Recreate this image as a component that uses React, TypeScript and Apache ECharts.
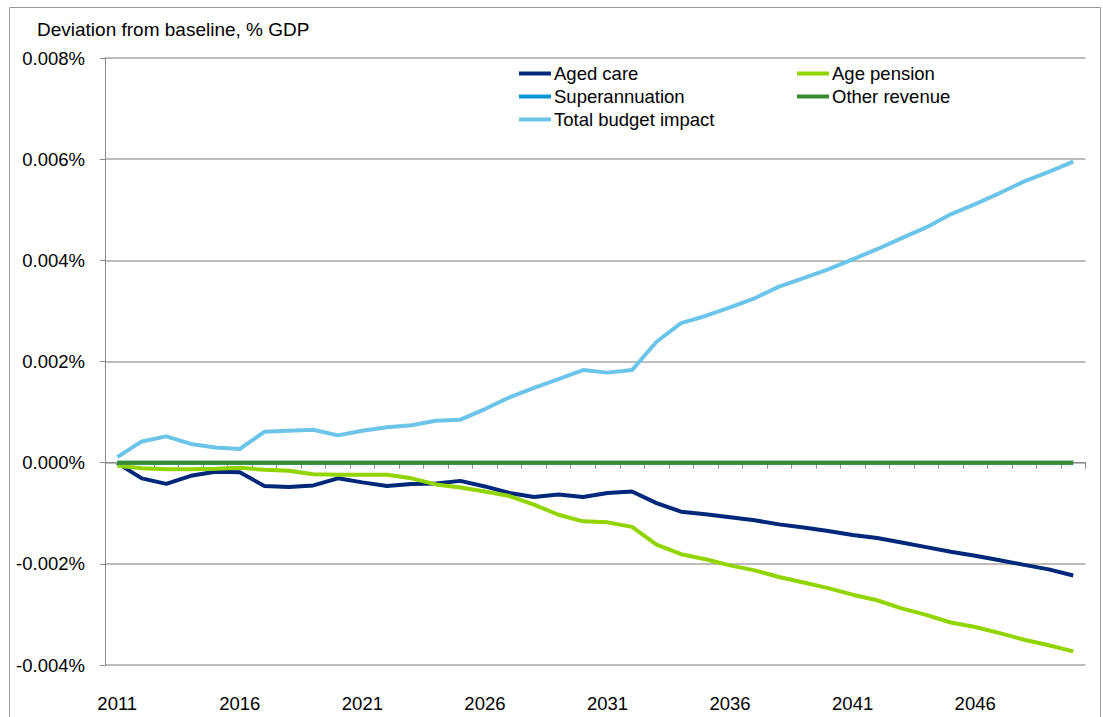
import React, { useEffect, useRef } from "react";
import * as echarts from "echarts";

const years: string[] = [];
for (let y = 2011; y <= 2050; y++) years.push(String(y));

const agedCare = [
  -0.00001, -0.00031, -0.00042, -0.00026, -0.00018, -0.00019, -0.00046, -0.00048, -0.00045, -0.00031,
  -0.00039, -0.00046, -0.00042, -0.00041, -0.00036, -0.00047, -0.0006, -0.00068, -0.00063, -0.00068,
  -0.0006, -0.00057, -0.0008, -0.00097, -0.00102, -0.00108, -0.00114, -0.00122, -0.00128, -0.00135,
  -0.00143, -0.00149, -0.00158, -0.00167, -0.00176, -0.00184, -0.00193, -0.00202, -0.00211, -0.00223,
];

const agePension = [
  -0.00006, -0.00011, -0.00013, -0.00013, -0.00012, -0.0001, -0.00014, -0.00016, -0.00023, -0.00024,
  -0.00024, -0.00024, -0.00031, -0.00043, -0.00049, -0.00057, -0.00066, -0.00083, -0.00103, -0.00116,
  -0.00118, -0.00127, -0.00162, -0.00181, -0.00191, -0.00203, -0.00213, -0.00226, -0.00237, -0.00248,
  -0.00261, -0.00272, -0.00288, -0.00301, -0.00316, -0.00325, -0.00337, -0.0035, -0.00361, -0.00373,
];

const superannuation = [
  0, 0, 0, 0, 0, 0, 0, 0, 0, 0, 0, 0, 0, 0, 0, 0, 0, 0, 0, 0,
  0, 0, 0, 0, 0, 0, 0, 0, 0, 0, 0, 0, 0, 0, 0, 0, 0, 0, 0, 0,
];

const otherRevenue = [
  0, 0, 0, 0, 0, 0, 0, 0, 0, 0, 0, 0, 0, 0, 0, 0, 0, 0, 0, 0,
  0, 0, 0, 0, 0, 0, 0, 0, 0, 0, 0, 0, 0, 0, 0, 0, 0, 0, 0, 0,
];

const totalBudget = [
  0.00011, 0.00042, 0.00052, 0.00037, 0.0003, 0.00027, 0.00061, 0.00063, 0.00065, 0.00054,
  0.00063, 0.0007, 0.00074, 0.00083, 0.00085, 0.00106, 0.00129, 0.00148, 0.00165, 0.00183,
  0.00178, 0.00183, 0.00239, 0.00276, 0.0029, 0.00307, 0.00325, 0.00348, 0.00365, 0.00382,
  0.00402, 0.00422, 0.00444, 0.00465, 0.00491, 0.00511, 0.00533, 0.00556, 0.00575, 0.00595,
];

const FONT = "'Liberation Sans', Arial, sans-serif";
const FS = 18.5;

export default function App() {
  const ref = useRef<HTMLDivElement>(null);
  useEffect(() => {
    if (!ref.current) return;
    const chart = echarts.init(ref.current, undefined, { renderer: "svg" });
    const lineSeries = (name: string, data: number[], color: string) => ({
      name,
      type: "line",
      data,
      showSymbol: false,
      symbol: "none",
      lineStyle: { color, width: 4 },
      itemStyle: { color },
      xAxisIndex: 0,
      yAxisIndex: 0,
    });
    const legendCommon = {
      orient: "vertical",
      top: 64,
      padding: 0,
      itemGap: 4,
      itemWidth: 32,
      itemHeight: 4,
      icon: "rect",
      textStyle: { fontFamily: FONT, fontSize: FS, color: "#000", lineHeight: 19, padding: [0, 0, 0, -2] },
    };
    chart.setOption({
      animation: false,
      textStyle: { fontFamily: FONT },
      title: {
        text: "Deviation from baseline, % GDP",
        left: 37,
        top: 20,
        padding: 0,
        textStyle: { fontFamily: FONT, fontSize: 19, fontWeight: "normal", color: "#000" },
      },
      graphic: [
        {
          type: "rect",
          shape: { x: 9.5, y: 7.5, width: 1091, height: 720 },
          style: { fill: "none", stroke: "#999", lineWidth: 1 },
          silent: true,
        },
      ],
      legend: [
        { ...legendCommon, left: 519, data: ["Aged care", "Superannuation", "Total budget impact"] },
        { ...legendCommon, left: 797, data: ["Age pension", "Other revenue"] },
      ],
      grid: { left: 105, right: 17.5, top: 58, bottom: 52, containLabel: false },
      xAxis: [
        {
          type: "category",
          data: years,
          boundaryGap: true,
          position: "bottom",
          axisLine: { show: false, onZero: false },
          axisTick: { show: false },
          axisLabel: { interval: 4, margin: 29, fontSize: FS, color: "#000", fontFamily: FONT },
          splitLine: { show: false },
        },
        {
          type: "category",
          data: years,
          boundaryGap: true,
          position: "bottom",
          axisLine: { show: true, onZero: true, lineStyle: { color: "#888", width: 1 } },
          axisTick: { show: true, interval: 0, length: 6, lineStyle: { color: "#888" } },
          axisLabel: { show: false },
          splitLine: { show: false },
        },
      ],
      yAxis: {
        type: "value",
        min: -0.004,
        max: 0.008,
        interval: 0.002,
        axisLine: { show: true, lineStyle: { color: "#888", width: 1 } },
        axisTick: { show: true, length: 5, lineStyle: { color: "#888" } },
        axisLabel: {
          margin: 20,
          fontSize: FS,
          color: "#000",
          fontFamily: FONT,
          formatter: (v: number) => v.toFixed(3) + "%",
        },
        splitLine: { show: true, lineStyle: { color: "#a6a6a6", width: 1.5 } },
      },
      series: [
        lineSeries("Aged care", agedCare, "#00287a"),
        lineSeries("Age pension", agePension, "#92d400"),
        lineSeries("Superannuation", superannuation, "#0a96d6"),
        lineSeries("Other revenue", otherRevenue, "#3a8a34"),
        lineSeries("Total budget impact", totalBudget, "#6cc5e9"),
      ],
    });
    return () => chart.dispose();
  }, []);
  return (
    <div
      ref={ref}
      style={{ position: "fixed", left: 0, top: 0, width: 1103, height: 717, background: "#fff" }}
    />
  );
}
